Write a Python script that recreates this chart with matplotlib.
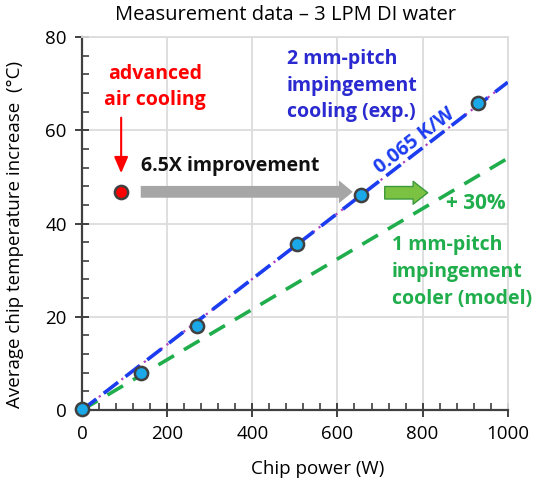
import numpy as np
import matplotlib
matplotlib.use("Agg")
import matplotlib.pyplot as plt
from matplotlib.ticker import MultipleLocator

plt.rcParams['font.family'] = ['Open Sans', 'DejaVu Sans']

# measured points (2 mm-pitch impingement cooling)
power_w = [0, 138, 270, 506, 655, 930]
temp_rise = [0.3, 7.9, 18.0, 35.6, 46.1, 65.9]
# advanced air cooling reference point
air_power = [92]
air_temp = [46.8]
# line slopes (K/W)
exp_slope = 0.0703
model_slope = 0.054
line_x = [0, 1000]

fig = plt.figure(figsize=(5.48, 4.87), dpi=100)
ax = fig.add_axes([0.1496, 0.158, 0.777, 0.766])

lx = np.array(line_x)
ax.plot(lx, model_slope * lx, color='#1fae4b', lw=2.6, dashes=(5, 3.2), zorder=3)
ax.plot(lx, exp_slope * lx, color='#b040c0', lw=1.6, ls=(0, (1, 2.2)), zorder=3)
ax.plot(lx, exp_slope * lx, color='#1c3cf0', lw=2.6, dashes=(5, 2.6), zorder=4)

ax.plot(power_w, temp_rise, 'o', ms=9.5, mfc='#1aa8e8', mec='#404040', mew=1.8,
        zorder=6, clip_on=False)
ax.plot(air_power, air_temp, 'o', ms=9.5, mfc='#ff0000', mec='#404040', mew=1.8,
        zorder=6)

ax.set_xlim(0, 1000)
ax.set_ylim(0, 80)
ax.xaxis.set_major_locator(MultipleLocator(200))
ax.xaxis.set_minor_locator(MultipleLocator(40))
ax.yaxis.set_major_locator(MultipleLocator(20))
ax.yaxis.set_minor_locator(MultipleLocator(4))
ax.grid(True, which='major', color='#dcdcdc', lw=1.3, zorder=0)
ax.set_axisbelow(True)
ax.tick_params(which='major', direction='inout', length=10, width=1.4, color='#404040',
               labelsize=13.5, pad=6)
ax.tick_params(which='minor', direction='in', length=5, width=1.2, color='#404040')
ax.tick_params(top=False, right=False, which='both')
for s in ['left', 'bottom']:
    ax.spines[s].set_color('#404040')
    ax.spines[s].set_linewidth(1.6)
for s in ['top', 'right']:
    ax.spines[s].set_color('#dcdcdc')
    ax.spines[s].set_linewidth(1.3)

ax.set_xlabel('Chip power (W)', fontsize=13.5)
ax.xaxis.set_label_coords(0.554, -0.135)
ax.set_ylabel('Average chip temperature increase  (°C)', fontsize=13.5)
ax.yaxis.set_label_coords(-0.135, 0.47)
ax.text(0.477, 1.06, 'Measurement data \u2013 3 LPM DI water', fontsize=14.5,
        ha='center', va='center', transform=ax.transAxes)

# annotations
ax.text(172, 69.3, 'advanced\nair cooling', color='#ff0000', fontsize=14,
        fontweight='bold', ha='center', va='center', linespacing=1.45)
ax.annotate('', xy=(92, 50.2), xytext=(92, 63.3),
            arrowprops=dict(arrowstyle='-|>,head_length=0.7,head_width=0.3',
                            color='#ff0000', lw=1.5, mutation_scale=14))
ax.text(138, 52.3, '6.5X improvement', color='#111111', fontsize=14,
        fontweight='bold', ha='left', va='center')
ax.annotate('', xy=(636, 46.8), xytext=(138, 46.8),
            arrowprops=dict(arrowstyle='simple,head_length=1.0,head_width=1.65,tail_width=0.85',
                            color='#a6a6a6', lw=0, mutation_scale=10,
                            shrinkA=0, shrinkB=0), zorder=5)
ax.annotate('', xy=(812, 46.6), xytext=(711, 46.6),
            arrowprops=dict(arrowstyle='simple,head_length=1.05,head_width=1.65,tail_width=0.9',
                            fc='#7cc242', ec='#3c9a3c', lw=1.0, mutation_scale=10,
                            shrinkA=0, shrinkB=0), zorder=5)
ax.text(856, 44.4, '+ 30%', color='#1fae4b', fontsize=15, fontweight='bold',
        ha='left', va='center')
ax.text(782, 57.8, '0.065 K/W', color='#1c3cf0', fontsize=14, fontweight='bold',
        rotation=37.5, rotation_mode='anchor', ha='center', va='center')
ax.text(481, 69.6, '2 mm-pitch\nimpingement\ncooling (exp.)', color='#2a2ad0',
        fontsize=14, fontweight='bold', ha='left', va='center', linespacing=1.45)
ax.text(728, 29.6, '1 mm-pitch\nimpingement\ncooler (model)', color='#1fae4b',
        fontsize=14, fontweight='bold', ha='left', va='center', linespacing=1.45)

fig.savefig('out.png', dpi=100)
